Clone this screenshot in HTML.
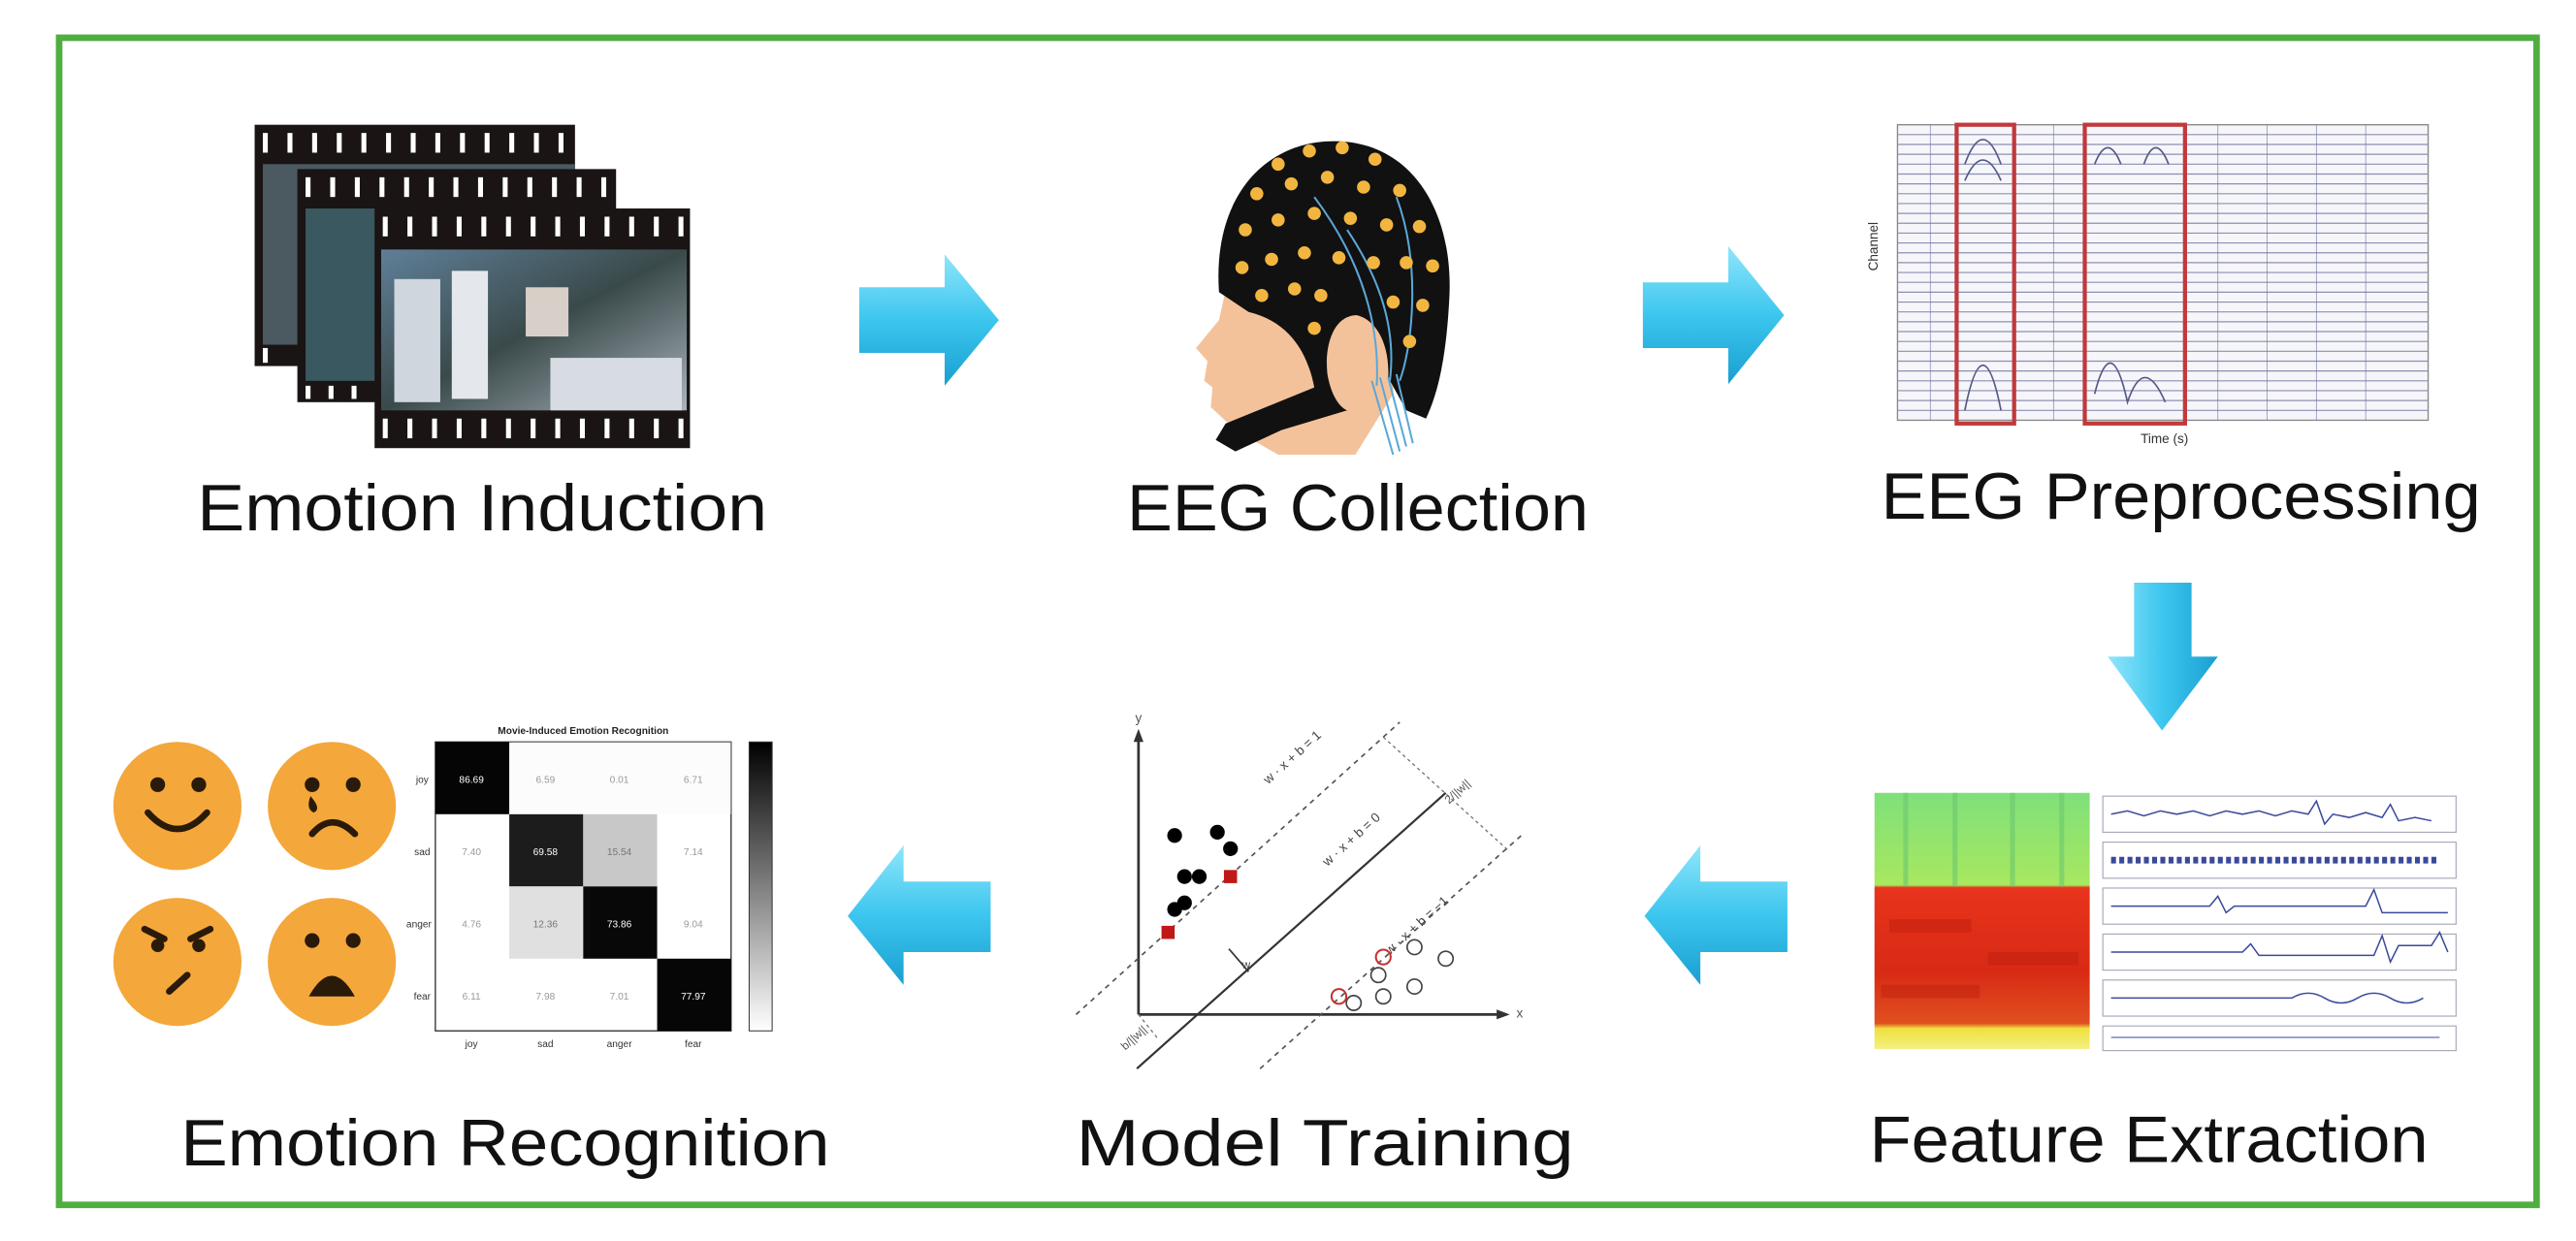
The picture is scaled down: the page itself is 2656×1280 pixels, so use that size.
<!DOCTYPE html>
<html><head><meta charset="utf-8"><style>
html,body{margin:0;padding:0;background:#fff;}
svg{display:block;}
text{font-family:"Liberation Sans",Arial,sans-serif;}
</style></head><body>
<svg width="2656" height="1280" viewBox="0 0 1568 756" preserveAspectRatio="none" xmlns="http://www.w3.org/2000/svg">
<defs>
<linearGradient id="ah" x1="0" y1="0" x2="0" y2="1"><stop offset="0" stop-color="#8fe6fa"/><stop offset="0.5" stop-color="#3cc6ef"/><stop offset="1" stop-color="#1a9fd0"/></linearGradient>
<linearGradient id="av" x1="0" y1="0" x2="1" y2="0"><stop offset="0" stop-color="#8fe6fa"/><stop offset="0.5" stop-color="#3cc6ef"/><stop offset="1" stop-color="#1a9fd0"/></linearGradient>
<linearGradient id="cb" x1="0" y1="0" x2="0" y2="1"><stop offset="0" stop-color="#000"/><stop offset="1" stop-color="#fff"/></linearGradient>
<linearGradient id="scene" x1="0" y1="0" x2="1" y2="1"><stop offset="0" stop-color="#5f7f98"/><stop offset="0.5" stop-color="#3a4a4a"/><stop offset="1" stop-color="#a9b3bc"/></linearGradient>
<linearGradient id="spec" x1="0" y1="0" x2="0" y2="1"><stop offset="0" stop-color="#7fe07a"/><stop offset="0.36" stop-color="#a8e860"/><stop offset="0.37" stop-color="#e8341c"/><stop offset="0.7" stop-color="#d82a14"/><stop offset="0.9" stop-color="#e05020"/><stop offset="0.92" stop-color="#f0e040"/><stop offset="1" stop-color="#f4f080"/></linearGradient>
</defs>
<rect x="0" y="0" width="1568" height="756" fill="#fff"/>
<rect x="36" y="23" width="1508" height="711" fill="none" stroke="#4fae3f" stroke-width="4"/>

<!-- Film strips -->
<g>
<rect x="155" y="76" width="195" height="147" fill="#1a1414"/>
<rect x="160" y="100" width="190" height="110" fill="#4a5a60"/>
<rect x="181" y="103" width="194" height="142" fill="#1a1414"/>
<rect x="186" y="127" width="189" height="105" fill="#3a5860"/>
<rect x="228" y="127" width="192" height="146" fill="#1a1414"/>
<rect x="232" y="152" width="186" height="98" fill="url(#scene)"/>
<rect x="240" y="170" width="28" height="75" fill="#cfd6de"/>
<rect x="275" y="165" width="22" height="78" fill="#e4e8ec"/>
<rect x="320" y="175" width="26" height="30" fill="#d8d0c8"/>
<rect x="335" y="218" width="80" height="32" fill="#d6dce2"/>
<g fill="#fff">
<g id="sp1">
<rect x="160" y="81" width="3" height="12"/><rect x="175" y="81" width="3" height="12"/><rect x="190" y="81" width="3" height="12"/><rect x="205" y="81" width="3" height="12"/><rect x="220" y="81" width="3" height="12"/><rect x="235" y="81" width="3" height="12"/><rect x="250" y="81" width="3" height="12"/><rect x="265" y="81" width="3" height="12"/><rect x="280" y="81" width="3" height="12"/><rect x="295" y="81" width="3" height="12"/><rect x="310" y="81" width="3" height="12"/><rect x="325" y="81" width="3" height="12"/><rect x="340" y="81" width="3" height="12"/>
</g>
<use href="#sp1" x="26" y="27"/>
<use href="#sp1" x="73" y="51"/>
<use href="#sp1" x="73" y="174"/>
<rect x="186" y="235" width="3" height="8"/><rect x="200" y="235" width="3" height="8"/><rect x="214" y="235" width="3" height="8"/>
<rect x="160" y="212" width="3" height="9"/>
</g>
</g>

<!-- Arrows -->
<g fill="url(#ah)">
<path d="M523,175 L575,175 L575,155 L608,195 L575,235 L575,215 L523,215 Z"/>
<path d="M1000,172 L1052,172 L1052,150 L1086,192 L1052,234 L1052,212 L1000,212 Z"/>
<path d="M603,537 L550,537 L550,515 L516,558 L550,600 L550,580 L603,580 Z"/>
<path d="M1088,537 L1035,537 L1035,515 L1001,558 L1035,600 L1035,580 L1088,580 Z"/>
</g>
<path fill="url(#av)" d="M1299,355 L1334,355 L1334,400 L1350,400 L1316,445 L1283,400 L1299,400 Z"/>

<!-- Head -->
<g>
<path fill="#f4c29a" d="M770,120 L748,168 L742,195 L728,212 L735,220 L733,232 L738,236 L737,248 L752,262 L778,277 L825,277 L848,240 L850,170 Z"/>
<path fill="#111" d="M742,178 C738,120 770,86 812,86 C860,86 886,130 882,185 C880,220 875,240 868,255 L856,250 L845,230 C846,210 838,195 826,192 C812,192 806,210 808,228 C810,240 815,248 820,250 L780,262 L752,275 L740,268 L746,258 L800,236 C796,215 785,196 760,190 Z"/>
<path fill="none" stroke="#5ba8d8" stroke-width="1.2" d="M840,230 L852,275 M845,230 L856,272 M850,228 L860,270 M835,232 L848,277 M820,140 C840,170 850,200 846,232 M800,120 C830,160 840,200 838,235 M850,120 C865,160 860,210 852,232"/>
<g fill="#f2b640">
<circle cx="778" cy="100" r="4"/><circle cx="797" cy="92" r="4"/><circle cx="817" cy="90" r="4"/><circle cx="837" cy="97" r="4"/>
<circle cx="765" cy="118" r="4"/><circle cx="786" cy="112" r="4"/><circle cx="808" cy="108" r="4"/><circle cx="830" cy="114" r="4"/><circle cx="852" cy="116" r="4"/>
<circle cx="758" cy="140" r="4"/><circle cx="778" cy="134" r="4"/><circle cx="800" cy="130" r="4"/><circle cx="822" cy="133" r="4"/><circle cx="844" cy="137" r="4"/><circle cx="864" cy="138" r="4"/>
<circle cx="756" cy="163" r="4"/><circle cx="774" cy="158" r="4"/><circle cx="794" cy="154" r="4"/><circle cx="815" cy="157" r="4"/><circle cx="836" cy="160" r="4"/><circle cx="856" cy="160" r="4"/><circle cx="872" cy="162" r="4"/>
<circle cx="768" cy="180" r="4"/><circle cx="788" cy="176" r="4"/><circle cx="804" cy="180" r="4"/><circle cx="848" cy="184" r="4"/><circle cx="866" cy="186" r="4"/>
<circle cx="800" cy="200" r="4"/><circle cx="858" cy="208" r="4"/>
</g>
</g>

<!-- EEG preprocessing plot -->
<g>
<rect x="1155" y="76" width="323" height="180" fill="#f6f6fa" stroke="#888" stroke-width="0.8"/>
<g stroke="#8a90b0" stroke-width="0.7">
<line x1="1155" y1="82" x2="1478" y2="82"/><line x1="1155" y1="88" x2="1478" y2="88"/><line x1="1155" y1="94" x2="1478" y2="94"/><line x1="1155" y1="100" x2="1478" y2="100"/><line x1="1155" y1="106" x2="1478" y2="106"/><line x1="1155" y1="112" x2="1478" y2="112"/><line x1="1155" y1="118" x2="1478" y2="118"/><line x1="1155" y1="124" x2="1478" y2="124"/><line x1="1155" y1="130" x2="1478" y2="130"/><line x1="1155" y1="136" x2="1478" y2="136"/><line x1="1155" y1="142" x2="1478" y2="142"/><line x1="1155" y1="148" x2="1478" y2="148"/><line x1="1155" y1="154" x2="1478" y2="154"/><line x1="1155" y1="160" x2="1478" y2="160"/><line x1="1155" y1="166" x2="1478" y2="166"/><line x1="1155" y1="172" x2="1478" y2="172"/><line x1="1155" y1="178" x2="1478" y2="178"/><line x1="1155" y1="184" x2="1478" y2="184"/><line x1="1155" y1="190" x2="1478" y2="190"/><line x1="1155" y1="196" x2="1478" y2="196"/><line x1="1155" y1="202" x2="1478" y2="202"/><line x1="1155" y1="208" x2="1478" y2="208"/><line x1="1155" y1="214" x2="1478" y2="214"/><line x1="1155" y1="220" x2="1478" y2="220"/><line x1="1155" y1="226" x2="1478" y2="226"/><line x1="1155" y1="232" x2="1478" y2="232"/><line x1="1155" y1="238" x2="1478" y2="238"/><line x1="1155" y1="244" x2="1478" y2="244"/><line x1="1155" y1="250" x2="1478" y2="250"/>
</g>
<g stroke="#6a70a0" stroke-width="0.5" opacity="0.7">
<line x1="1350" y1="76" x2="1350" y2="256"/><line x1="1380" y1="76" x2="1380" y2="256"/><line x1="1410" y1="76" x2="1410" y2="256"/><line x1="1440" y1="76" x2="1440" y2="256"/><line x1="1250" y1="76" x2="1250" y2="256"/><line x1="1175" y1="76" x2="1175" y2="256"/>
</g>
<path d="M1196,100 Q1207,70 1218,100 M1196,110 Q1207,85 1218,110 M1196,250 Q1207,195 1218,250 M1275,100 Q1283,80 1291,100 M1305,100 Q1312,80 1320,100 M1275,240 Q1285,200 1295,245 Q1305,215 1318,245" fill="none" stroke="#555a88" stroke-width="1"/>
<rect x="1191" y="76" width="35" height="182" fill="none" stroke="#c0393b" stroke-width="2.5"/>
<rect x="1269" y="76" width="61" height="182" fill="none" stroke="#c0393b" stroke-width="2.5"/>
<text x="1143" y="165" font-size="8" transform="rotate(-90 1143 165)" fill="#333">Channel</text>
<text x="1303" y="270" font-size="8" fill="#333">Time (s)</text>
</g>

<!-- Feature extraction -->
<g>
<rect x="1141" y="483" width="131" height="156" fill="url(#spec)"/>
<g stroke="#6cc870" stroke-width="3" opacity="0.6"><line x1="1160" y1="483" x2="1160" y2="540"/><line x1="1190" y1="483" x2="1190" y2="540"/><line x1="1225" y1="483" x2="1225" y2="540"/><line x1="1255" y1="483" x2="1255" y2="540"/></g>
<g fill="#b81c10" opacity="0.4"><rect x="1150" y="560" width="50" height="8"/><rect x="1210" y="580" width="55" height="8"/><rect x="1145" y="600" width="60" height="8"/></g>
<g fill="#fff" stroke="#aab" stroke-width="0.7">
<rect x="1280" y="485" width="215" height="22"/><rect x="1280" y="513" width="215" height="22"/><rect x="1280" y="541" width="215" height="22"/><rect x="1280" y="569" width="215" height="22"/><rect x="1280" y="597" width="215" height="22"/><rect x="1280" y="625" width="215" height="15"/>
</g>
<g fill="none" stroke="#3a4a9a" stroke-width="0.9">
<path d="M1285,496 l10,-2 l10,3 l10,-3 l10,2 l10,-2 l10,3 l10,-3 l10,2 l10,-2 l10,3 l10,-3 l10,2 l5,-8 l5,14 l5,-6 l10,2 l10,-3 l10,3 l5,-8 l5,10 l10,-2 l10,2"/>
<path d="M1285,524 l200,0" stroke-width="4" stroke-dasharray="3 2"/>
<path d="M1285,552 l60,0 l5,-6 l5,10 l5,-4 l80,0 l5,-10 l5,14 l40,0"/>
<path d="M1285,580 l80,0 l5,-5 l5,7 l70,0 l5,-12 l5,16 l5,-10 l20,0 l5,-8 l5,12"/>
<path d="M1285,608 l110,0 q10,-6 20,0 q10,6 20,0 q10,-6 20,0 q10,6 20,0"/>
<path d="M1285,632 l200,0" stroke-width="0.6"/>
</g>
</g>

<!-- SVM -->
<g>
<line x1="693" y1="618" x2="693" y2="448" stroke="#333" stroke-width="1.6"/>
<path d="M693,444 l-3,8 l6,0 z" fill="#333"/>
<line x1="693" y1="618" x2="915" y2="618" stroke="#333" stroke-width="1.6"/>
<path d="M919,618 l-8,-3 l0,6 z" fill="#333"/>
<text x="691" y="440" font-size="8" fill="#555">y</text>
<text x="923" y="620" font-size="8" fill="#555">x</text>
<line x1="692" y1="651" x2="880" y2="483" stroke="#333" stroke-width="1.3"/>
<line x1="655" y1="618" x2="852" y2="440" stroke="#555" stroke-width="1" stroke-dasharray="3 3"/>
<line x1="767" y1="651" x2="926" y2="509" stroke="#555" stroke-width="1" stroke-dasharray="3 3"/>
<line x1="842" y1="449" x2="918" y2="518" stroke="#777" stroke-width="0.8" stroke-dasharray="2 2"/>
<line x1="693" y1="618" x2="705" y2="633" stroke="#777" stroke-width="0.8" stroke-dasharray="2 2"/>
<line x1="760" y1="592" x2="748" y2="578" stroke="#333" stroke-width="1"/>
<text x="772" y="478" font-size="8" fill="#444" transform="rotate(-42 772 478)">w · x + b = 1</text>
<text x="808" y="528" font-size="8" fill="#444" transform="rotate(-42 808 528)">w · x + b = 0</text>
<text x="846" y="582" font-size="8" fill="#444" transform="rotate(-42 846 582)">w · x + b = −1</text>
<text x="882" y="490" font-size="7" fill="#555" transform="rotate(-42 882 490)">2/||w||</text>
<text x="685" y="640" font-size="7" fill="#555" transform="rotate(-42 685 640)">b/||w||</text>
<text x="756" y="590" font-size="7" fill="#444">w</text>
<g fill="#000"><circle cx="715" cy="509" r="4.5"/><circle cx="741" cy="507" r="4.5"/><circle cx="749" cy="517" r="4.5"/><circle cx="721" cy="534" r="4.5"/><circle cx="730" cy="534" r="4.5"/><circle cx="715" cy="554" r="4.5"/><circle cx="721" cy="550" r="4.5"/></g>
<g fill="#c01818"><rect x="745" y="530" width="8" height="8"/><rect x="707" y="564" width="8" height="8"/></g>
<g fill="none" stroke="#444" stroke-width="1"><circle cx="861" cy="577" r="4.5"/><circle cx="880" cy="584" r="4.5"/><circle cx="839" cy="594" r="4.5"/><circle cx="861" cy="601" r="4.5"/><circle cx="842" cy="607" r="4.5"/><circle cx="824" cy="611" r="4.5"/></g>
<g fill="none" stroke="#c83030" stroke-width="1.2"><circle cx="815" cy="607" r="4.5"/><circle cx="842" cy="583" r="4.5"/></g>
</g>

<!-- Faces -->
<g>
<circle cx="108" cy="491" r="39" fill="#f4a73a"/>
<circle cx="202" cy="491" r="39" fill="#f4a73a"/>
<circle cx="108" cy="586" r="39" fill="#f4a73a"/>
<circle cx="202" cy="586" r="39" fill="#f4a73a"/>
<g fill="#2a1a0a">
<circle cx="96" cy="478" r="4.5"/><circle cx="121" cy="478" r="4.5"/>
<circle cx="190" cy="478" r="4.5"/><circle cx="215" cy="478" r="4.5"/>
<circle cx="96" cy="576" r="4"/><circle cx="121" cy="576" r="4"/>
<circle cx="190" cy="573" r="4.5"/><circle cx="215" cy="573" r="4.5"/>
<path d="M188,607 Q202,582 216,607 Z"/>
</g>
<g fill="none" stroke="#2a1a0a" stroke-width="4" stroke-linecap="round">
<path d="M90,495 Q108,515 126,495"/>
<path d="M190,508 Q202,494 216,508"/>
<path d="M88,566 L100,572 M128,566 L116,572"/>
<path d="M103,604 L114,594"/>
</g>
<path d="M189,485 q-3,8 2,10 q5,-2 -2,-10z" fill="#2a1a0a"/>
</g>

<!-- Confusion matrix -->
<g>
<text x="355" y="447" font-size="6" text-anchor="middle" fill="#222" font-weight="bold">Movie-Induced Emotion Recognition</text>
<rect x="265" y="452" width="180" height="176" fill="#fff" stroke="#333" stroke-width="0.8"/>
<rect x="265" y="452" width="45" height="44" fill="#050505"/>
<rect x="310" y="496" width="45" height="44" fill="#1c1c1c"/>
<rect x="355" y="496" width="45" height="44" fill="#c8c8c8"/>
<rect x="310" y="540" width="45" height="44" fill="#e0e0e0"/>
<rect x="355" y="540" width="45" height="44" fill="#080808"/>
<rect x="400" y="584" width="45" height="44" fill="#060606"/>
<rect x="310" y="452" width="135" height="44" fill="#fafafa" opacity="0.5"/>
<g font-size="6" text-anchor="middle">
<text x="287" y="477" fill="#fff">86.69</text><text x="332" y="477" fill="#999">6.59</text><text x="377" y="477" fill="#999">0.01</text><text x="422" y="477" fill="#999">6.71</text>
<text x="287" y="521" fill="#999">7.40</text><text x="332" y="521" fill="#fff">69.58</text><text x="377" y="521" fill="#777">15.54</text><text x="422" y="521" fill="#999">7.14</text>
<text x="287" y="565" fill="#999">4.76</text><text x="332" y="565" fill="#777">12.36</text><text x="377" y="565" fill="#fff">73.86</text><text x="422" y="565" fill="#999">9.04</text>
<text x="287" y="609" fill="#999">6.11</text><text x="332" y="609" fill="#999">7.98</text><text x="377" y="609" fill="#999">7.01</text><text x="422" y="609" fill="#fff">77.97</text>
<text x="257" y="477" fill="#333">joy</text><text x="257" y="521" fill="#333">sad</text><text x="255" y="565" fill="#333">anger</text><text x="257" y="609" fill="#333">fear</text>
<text x="287" y="638" fill="#333">joy</text><text x="332" y="638" fill="#333">sad</text><text x="377" y="638" fill="#333">anger</text><text x="422" y="638" fill="#333">fear</text>
</g>
<rect x="456" y="452" width="14" height="176" fill="url(#cb)" stroke="#333" stroke-width="0.6"/>
</g>

<!-- Labels -->
<g font-size="40" fill="#111">
<text x="120" y="323" textLength="347" lengthAdjust="spacingAndGlyphs">Emotion  Induction</text>
<text x="686" y="323" textLength="281" lengthAdjust="spacingAndGlyphs">EEG Collection</text>
<text x="1145" y="316" textLength="365" lengthAdjust="spacingAndGlyphs">EEG Preprocessing</text>
<text x="110" y="710" textLength="395" lengthAdjust="spacingAndGlyphs">Emotion  Recognition</text>
<text x="655" y="710" textLength="303" lengthAdjust="spacingAndGlyphs">Model Training</text>
<text x="1138" y="708" textLength="340" lengthAdjust="spacingAndGlyphs">Feature Extraction</text>
</g>
</svg>
</body></html>
